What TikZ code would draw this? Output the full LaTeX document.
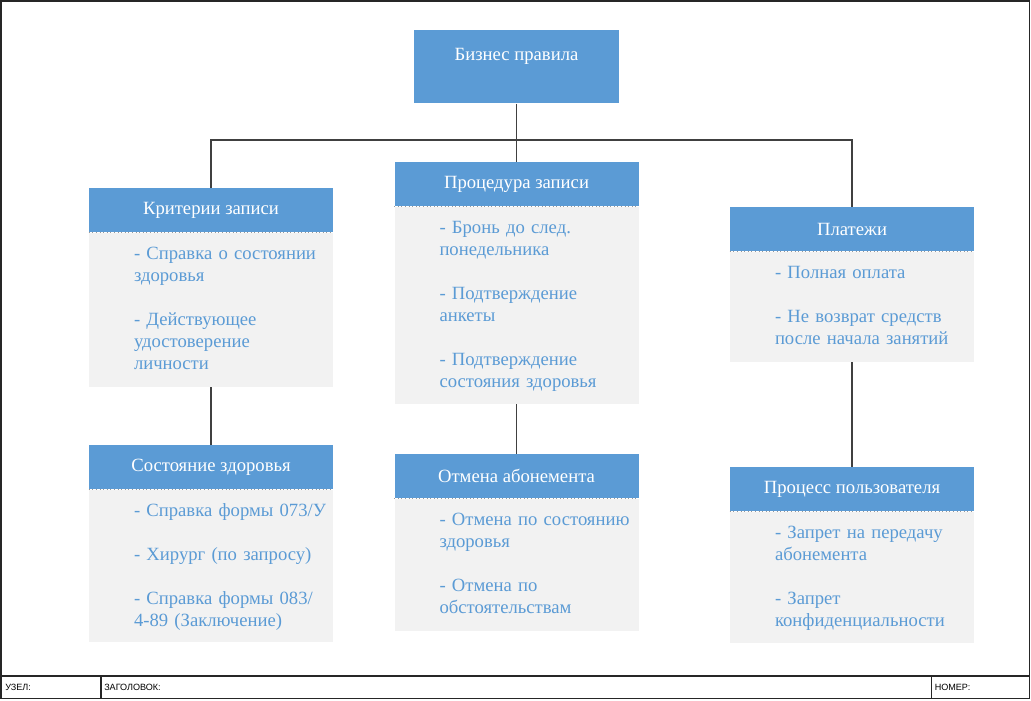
\documentclass[tikz,border=0pt]{standalone}
\usepackage{fontspec}
\setmainfont{Liberation Serif}
\newfontfamily\stampfont{Liberation Sans}
\usepackage{xcolor}
\definecolor{ruleBlue}{HTML}{5B9BD5}
\definecolor{ruleGray}{HTML}{F2F2F2}
\definecolor{ruleLine}{HTML}{404040}
\usetikzlibrary{positioning}

\begin{document}
\begin{tikzpicture}[x=0.75pt, y=-0.75pt,
    root/.style={rectangle, fill=ruleBlue, text=white, inner sep=0pt, anchor=north,
        minimum width=153.75pt, text height=22.5pt, text depth=32.25pt,
        font=\fontsize{14}{16.5}\selectfont},
    head/.style={rectangle, fill=ruleBlue, text=white, inner sep=0pt, anchor=north,
        minimum width=183pt, minimum height=33pt, font=\fontsize{14}{16.5}\selectfont},
    body/.style={rectangle, fill=ruleGray, text=ruleBlue, inner sep=0pt, text width=183pt,
        align=left, text height=20.25pt, font=\fontsize{14}{16.5}\selectfont,
        execute at begin node={\leftskip=33.75pt}},
    link/.style={draw=ruleLine, line width=0.8pt},
    sep/.style={draw=gray!80, dotted, line width=0.7pt},
    stamp/.style={anchor=west, inner sep=0pt, font=\stampfont\fontsize{6.8}{8}\selectfont}]

    \useasboundingbox (0,0) rectangle (1031,700);

    % --- Root ---
    \node[root] (root) at (516.5,30) {Бизнес правила};

    % --- First row ---
    \node[head] (h1) at (211,188) {Критерии записи};
    \node[body, text depth=95.25pt, below=0pt of h1] (b1)
        {- Справка о состоянии\\ здоровья\\[16.5pt]
         - Действующее\\ удостоверение\\ личности};

    \node[head] (h2) at (516.5,162) {Процедура записи};
    \node[body, text depth=127.5pt, below=0pt of h2] (b2)
        {- Бронь до след.\\ понедельника\\[16.5pt]
         - Подтверждение\\ анкеты\\[16.5pt]
         - Подтверждение\\ состояния здоровья};

    \node[head] (h3) at (852,207) {Платежи};
    \node[body, text depth=62.25pt, below=0pt of h3] (b3)
        {- Полная оплата\\[16.5pt]
         - Не возврат средств\\ после начала занятий};

    % --- Second row ---
    \node[head] (h4) at (211,445) {Состояние здоровья};
    \node[body, text depth=93.75pt, below=0pt of h4] (b4)
        {- Справка формы 073/У\\[16.5pt]
         - Хирург (по запросу)\\[16.5pt]
         - Справка формы 083/\\ 4-89 (Заключение)};

    \node[head] (h5) at (516.5,454) {Отмена абонемента};
    \node[body, text depth=78.75pt, below=0pt of h5] (b5)
        {- Отмена по состоянию\\ здоровья\\[16.5pt]
         - Отмена по\\ обстоятельствам};

    \node[head] (h6) at (852,467) {Процесс пользователя};
    \node[body, text depth=78pt, below=0pt of h6] (b6)
        {- Запрет на передачу\\ абонемента\\[16.5pt]
         - Запрет\\ конфиденциальности};

    % dotted seams between header and body
    \foreach \k in {1,...,6} {
        \draw[sep] (h\k.south west) -- (h\k.south east);
    }

    % --- Connectors ---
    \coordinate (bus) at (516.5,140);
    \draw[link] (root.south) -- (h2.north);
    \draw[link] (h1.north) |- (bus) -| (h3.north);
    \draw[link] (b1.south) -- (h4.north);
    \draw[link] (b2.south) -- (h5.north);
    \draw[link] (b3.south) -- (h6.north);

    % --- Frame and title strip ---
    \draw[black!85, line width=1.1pt] (1,1) rectangle (1029.5,698.5);
    \draw[black!85, line width=1.1pt] (1,676) -- (1029.5,676);
    \draw[black!85, line width=0.8pt] (101,676) -- (101,698.5);
    \draw[black!85, line width=0.8pt] (931.5,676) -- (931.5,698.5);
    \node[stamp] (node) at (5,687.5) {УЗЕЛ:};
    \node[stamp] (title) at (104,687.5) {ЗАГОЛОВОК:};
    \node[stamp] (number) at (934.5,687.5) {НОМЕР:};

\end{tikzpicture}
\end{document}
